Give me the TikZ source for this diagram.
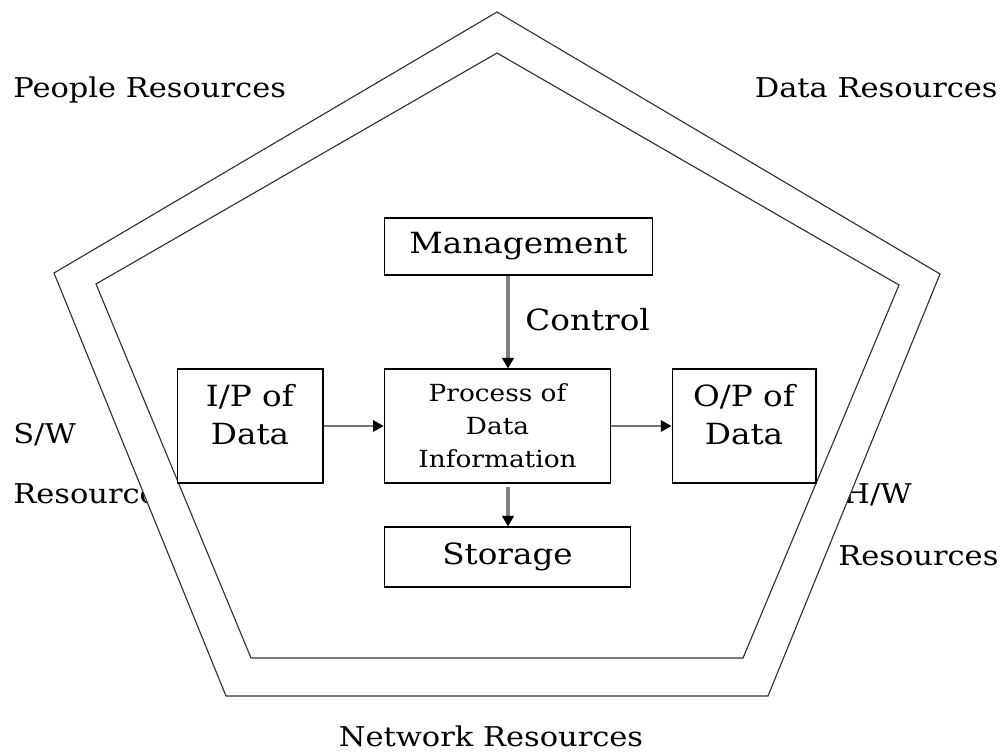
\documentclass[tikz,border=0pt]{standalone}
\usepackage{fontspec}
\setmainfont{DejaVu Serif}[FakeStretch=1.12]
\usetikzlibrary{arrows.meta}
\tikzset{
  lbl/.style={font=\fontsize{15.5}{18}\selectfont, inner sep=0pt},
  boxtxt/.style={font=\fontsize{16.6}{21.5}\selectfont, align=center, inner sep=0pt},
  proctxt/.style={font=\fontsize{13.4}{18.7}\selectfont, align=center, inner sep=0pt},
  blk/.style={draw=black, line width=0.9pt, fill=white, inner sep=0pt},
  pent/.style={draw=black!80, line width=0.65pt},
  flowv/.style={draw=black!50, line width=1.9pt, -{Triangle[length=6pt,width=6.5pt,color=black]}},
  flowh/.style={draw=black!55, line width=0.8pt, -{Triangle[length=6pt,width=6.5pt,color=black]}},
}
\begin{document}
\begin{tikzpicture}[x=0.02cm, y=-0.02cm]
\useasboundingbox (0,0) rectangle (1000,751);
% outer labels (partly covered by the pentagon band)
\node[lbl, anchor=base west] (people) at (13,97) {People Resources};
\node[lbl, anchor=base east] (datares) at (998,97) {Data Resources};
\node[lbl, anchor=base west] (sw) at (13,443) {S/W};
\node[lbl, anchor=base west] (swres) at (13,503) {Resources};
\node[lbl, anchor=base east] (hw) at (912,503) {H/W};
\node[lbl, anchor=base west] (hwres) at (838,565) {Resources};
\node[lbl, anchor=base] (netres) at (491,746) {Network Resources};
% pentagons
\filldraw[pent, fill=white] (497,12) -- (940,274) -- (768,696) -- (226,696) -- (54,273) -- cycle;
\draw[pent] (497,53) -- (899,285) -- (743,658) -- (251,658) -- (96,284) -- cycle;
% boxes
\node[blk, minimum width=269*0.5669pt, minimum height=57*0.5669pt] (mgmt) at (518.5,246.5) {};
\node[boxtxt] (mgmttxt) at (518.5,246.5) {Management};
\node[blk, minimum width=227*0.5669pt, minimum height=114*0.5669pt] (proc) at (497.5,426) {};
\node[proctxt] (proctxt) at (497.5,426) {Process of\\Data\\Information};
\node[blk, minimum width=146*0.5669pt, minimum height=114*0.5669pt] (ip) at (250,426) {};
\node[boxtxt] (iptxt) at (250,415) {I/P of\\Data};
\node[blk, minimum width=144*0.5669pt, minimum height=114*0.5669pt] (op) at (744,426) {};
\node[boxtxt] (optxt) at (744,415) {O/P of\\Data};
\node[blk, minimum width=247*0.5669pt, minimum height=60*0.5669pt] (stor) at (507.5,557) {};
\node[boxtxt] (stortxt) at (507.5,557) {Storage};
% connectors
\coordinate (mgmtout) at (508,275.5);
\coordinate (procin) at (508,368.5);
\coordinate (procout) at (508,487);
\coordinate (storin) at (508,526.5);
\draw[flowv] (mgmtout) -- (procin);
\draw[flowv] (procout) -- (storin);
\draw[flowh] (ip.east) -- (proc.west);
\draw[flowh] (proc.east) -- (op.west);
\node[boxtxt, anchor=base west] (ctrl) at (525,330) {Control};
\end{tikzpicture}
\end{document}
